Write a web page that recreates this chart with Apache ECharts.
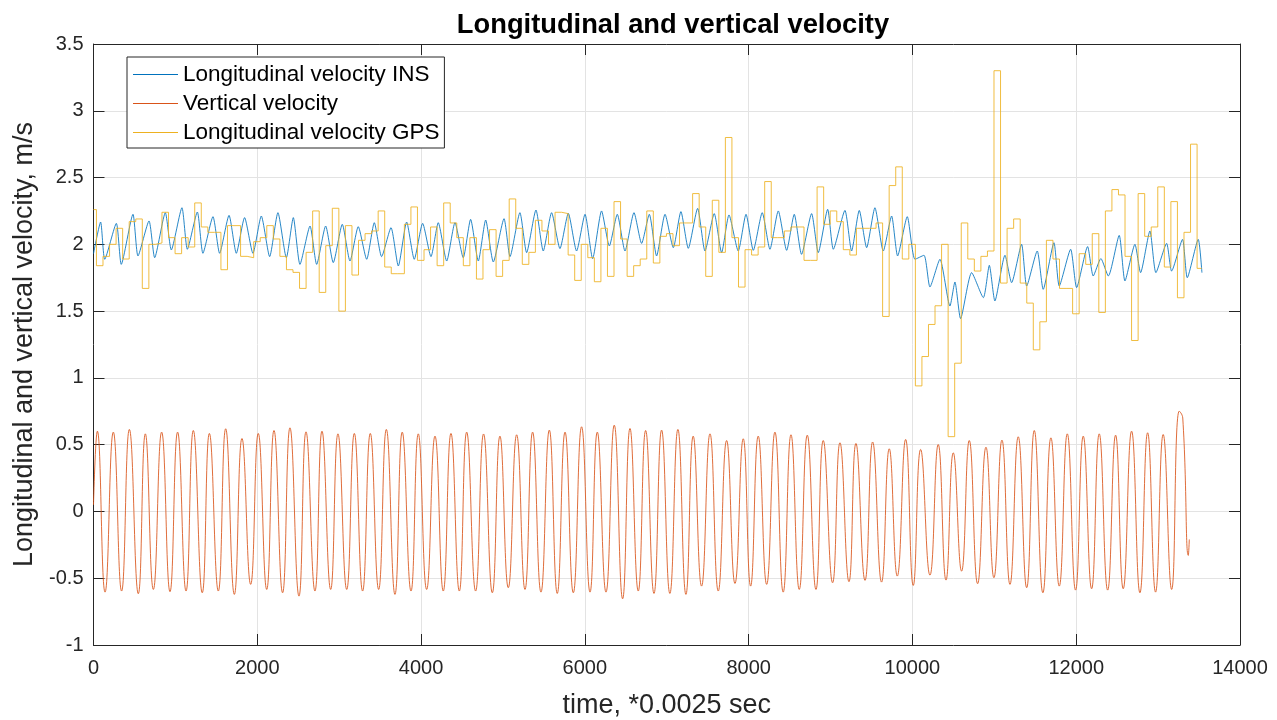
<!DOCTYPE html>
<html>
<head>
<meta charset="utf-8">
<script src="https://cdn.jsdelivr.net/npm/echarts/dist/echarts.min.js"></script>
<style>
html,body{margin:0;padding:0;background:#ffffff;}
#chart{width:1277px;height:720px;}
</style>
</head>
<body>
<div id="chart"></div>
<script>
// ---------------- DATA ----------------
const titleText = 'Longitudinal and vertical velocity';
const xAxisName = 'time, *0.0025 sec';
const yAxisName = 'Longitudinal and vertical velocity, m/s';
const seriesNames = ['Longitudinal velocity INS', 'Vertical velocity', 'Longitudinal velocity GPS'];

const xMin = 0, xMax = 14000, xStep = 2000;
const yMin = -1, yMax = 3.5, yStep = 0.5;

// Longitudinal velocity INS: key points (time in samples, velocity m/s)
const insTime = [0, 87, 137, 279, 339, 482, 543, 678, 747, 877, 950, 1080, 1146, 1268, 1336, 1459, 1540, 1655, 1744, 1845, 1947, 2049, 2151, 2252, 2355, 2440, 2521, 2644, 2725, 2835, 2928, 3038, 3132, 3233, 3336, 3429, 3518, 3633, 3722, 3824, 3917, 4019, 4121, 4210, 4313, 4414, 4515, 4605, 4699, 4789, 4882, 5013, 5086, 5207, 5289, 5403, 5492, 5594, 5696, 5798, 5899, 6002, 6095, 6204, 6299, 6396, 6490, 6600, 6693, 6787, 6876, 6979, 7080, 7173, 7263, 7377, 7467, 7580, 7670, 7760, 7873, 7968, 8057, 8166, 8260, 8362, 8464, 8557, 8646, 8769, 8850, 8965, 9034, 9176, 9257, 9351, 9441, 9542, 9644, 9746, 9819, 9937, 10031, 10141, 10214, 10336, 10458, 10519, 10588, 10723, 10866, 10939, 11007, 11130, 11211, 11333, 11395, 11524, 11597, 11728, 11793, 11932, 12005, 12139, 12208, 12301, 12392, 12525, 12595, 12717, 12786, 12900, 12973, 13104, 13165, 13298, 13356, 13490, 13535];
const insVel = [1.93,
  2.167, 1.888, 2.157, 1.85, 2.225, 1.913, 2.175, 1.9, 2.237, 1.958,
  2.274, 1.963, 2.242, 1.933, 2.207, 1.933, 2.217, 1.933, 2.2, 1.933,
  2.212, 1.908, 2.237, 1.9, 2.2, 1.85, 2.137, 1.85, 2.137, 1.863,
  2.15, 1.875, 2.132, 1.888, 2.162, 1.908, 2.125, 1.838, 2.167, 1.888,
  2.157, 1.908, 2.162, 1.875, 2.162, 1.9, 2.187, 1.875, 2.182, 1.868,
  2.192, 1.908, 2.237, 1.938, 2.257, 1.95, 2.237, 1.968, 2.232, 1.95,
  2.225, 1.893, 2.25, 1.988, 2.225, 1.95, 2.237, 2.007, 2.225, 1.913,
  2.225, 1.975, 2.245, 1.97, 2.269, 1.95, 2.23, 1.938, 2.22, 1.95,
  2.225, 1.955, 2.237, 1.963, 2.25, 1.955, 2.225, 1.925, 2.23, 1.938,
  2.262, 1.963, 2.254, 1.95, 2.254, 1.975, 2.274, 1.95, 2.212, 1.913,
  2.207,
  1.888, 1.918, 1.681, 1.888, 1.538, 1.718, 1.444, 1.788, 1.601, 1.843,
  1.576, 1.918, 1.713, 2.0, 1.688, 1.95, 1.663, 2.012, 1.688, 1.963,
  1.676, 1.983, 1.763, 1.893, 1.763, 2.067, 1.726, 2.0, 1.788, 2.1,
  1.788, 2.007, 1.8, 2.037, 1.75, 2.037, 1.788];

// Vertical velocity: peaks and troughs of each stride
const vertTime = [0, 47, 141, 242, 343, 438, 547, 633, 731, 832, 934, 1027, 1130, 1219, 1328, 1415, 1524, 1614, 1720, 1813, 1919, 2012, 2115, 2204, 2309, 2399, 2509, 2595, 2704, 2790, 2896, 2985, 3092, 3185, 3286, 3380, 3482, 3576, 3681, 3770, 3877, 3966, 4068, 4170, 4271, 4365, 4467, 4557, 4666, 4763, 4870, 4963, 5065, 5167, 5269, 5362, 5464, 5566, 5663, 5758, 5859, 5960, 6063, 6152, 6258, 6359, 6461, 6551, 6652, 6742, 6844, 6937, 7038, 7136, 7234, 7323, 7425, 7528, 7629, 7731, 7833, 7934, 8024, 8117, 8220, 8321, 8422, 8517, 8618, 8716, 8822, 8911, 9025, 9115, 9225, 9310, 9421, 9514, 9623, 9717, 9815, 9917, 10010, 10100, 10214, 10315, 10410, 10499, 10600, 10694, 10796, 10898, 10995, 11093, 11191, 11292, 11395, 11488, 11593, 11691, 11793, 11891, 11992, 12086, 12188, 12281, 12384, 12481, 12574, 12676, 12778, 12872, 12969, 13062, 13165, 13258, 13301, 13369, 13381];
const vertVel = [0.05,
  0.601, -0.604, 0.594, -0.596, 0.614, -0.616, 0.581, -0.584, 0.594, -0.601,
  0.594, -0.596, 0.606, -0.609, 0.584, -0.596, 0.619, -0.621, 0.546, -0.546,
  0.584, -0.584, 0.606, -0.609, 0.626, -0.634, 0.596, -0.596, 0.601, -0.584,
  0.581, -0.584, 0.584, -0.596, 0.584, -0.584, 0.614, -0.621, 0.594, -0.596,
  0.581, -0.584, 0.564, -0.596, 0.584, -0.596, 0.594, -0.596, 0.58, -0.609,
  0.564, -0.571, 0.574, -0.584, 0.594, -0.604, 0.609, -0.614, 0.594, -0.609,
  0.634, -0.604, 0.594, -0.604, 0.646, -0.654, 0.621, -0.596, 0.606, -0.614,
  0.609, -0.614, 0.614, -0.621, 0.564, -0.559, 0.581, -0.596, 0.531, -0.539,
  0.544, -0.559, 0.564, -0.546, 0.594, -0.604, 0.574, -0.584, 0.571, -0.584,
  0.531, -0.534, 0.514, -0.526, 0.509, -0.516, 0.52, -0.529, 0.469, -0.484,
  0.539, -0.554, 0.464, -0.477, 0.501, -0.514, 0.439, -0.447, 0.531, -0.541,
  0.481, -0.496, 0.534, -0.546, 0.559, -0.571, 0.606, -0.609, 0.551, -0.559,
  0.581, -0.589, 0.564, -0.579, 0.581, -0.589, 0.571, -0.579, 0.601, -0.609,
  0.589, -0.604, 0.576, -0.584,
  0.751, 0.70, -0.329, -0.21];

// Longitudinal velocity GPS: one value per GPS fix (5 Hz = every 80 samples)
const gpsFirstChange = 36;   // sample of first GPS update
const gpsPeriod = 80;        // samples between GPS updates
const gpsEnd = 13531;        // last sample
const gpsVel = [
  2.26, 1.84, 1.91, 2.0, 2.12, 1.89, 2.17, 2.19, 1.67, 2.0,
  2.01, 2.24, 2.05, 1.93, 2.05, 1.98, 2.31, 2.13, 2.09, 2.09,
  1.81, 2.14, 2.14, 1.91, 1.9, 2.02, 2.05, 2.14, 2.04, 1.91,
  1.81, 1.79, 1.67, 1.94, 2.25, 1.64, 1.99, 2.27, 1.5, 2.14,
  1.77, 2.03, 2.08, 2.1, 2.25, 1.83, 1.78, 1.78, 2.15, 2.28,
  1.88, 1.96, 2.13, 1.84, 2.31, 2.16, 2.05, 1.84, 2.05, 1.74,
  1.96, 2.11, 1.76, 1.88, 2.34, 2.12, 1.85, 1.94, 2.18, 2.1,
  2.0, 2.24, 2.23, 1.92, 1.73, 2.0, 1.9, 1.72, 2.12, 1.76,
  2.32, 2.04, 1.76, 1.84, 1.89, 2.25, 1.86, 2.06, 2.08, 1.99,
  2.16, 2.16, 2.38, 2.13, 1.76, 2.33, 1.94, 2.8, 2.05, 1.68,
  1.96, 1.92, 1.98, 2.47, 2.05, 2.05, 2.1, 2.13, 2.13, 1.88,
  1.88, 2.43, 2.15, 2.25, 2.17, 1.96, 1.92, 2.12, 2.12, 2.12,
  2.16, 1.46, 2.44, 2.58, 1.89, 2.0, 0.94, 1.16, 1.4, 1.54,
  2.0, 0.56, 1.11, 2.16, 1.89, 1.8, 1.91, 1.95, 3.3, 1.71,
  2.12, 2.19, 1.71, 1.56, 1.21, 1.42, 2.03, 1.89, 1.67, 1.67,
  1.48, 1.93, 1.85, 2.08, 1.49, 2.25, 2.41, 2.37, 1.91, 1.28,
  2.38, 2.06, 2.13, 2.43, 1.83, 2.32, 1.6, 2.09, 2.75, 1.82];

// ---------------- CHART ----------------
const FONT = '"Liberation Sans", Arial, Helvetica, sans-serif';
const TXT = '#262626';
const GRIDC = '#e3e3e3';
const COLORS = ['#0072BD', '#D95319', '#EDB120'];

const zip = (t, v) => t.map((x, i) => [x, v[i]]);
const insData = zip(insTime, insVel);
const vertData = zip(vertTime, vertVel);
const gpsData = gpsVel.map((v, i) => [i === 0 ? 0 : gpsFirstChange + gpsPeriod * (i - 1), v]);
gpsData.push([gpsEnd, gpsVel[gpsVel.length - 1]]);

const chart = echarts.init(document.getElementById('chart'), null, {renderer: 'canvas'});

function baseX(pos, main) {
  return {
    type: 'value', position: pos, min: xMin, max: xMax, interval: xStep,
    axisLine: {show: true, onZero: false, lineStyle: {color: TXT, width: 1}},
    axisTick: {show: true, inside: true, length: 11, lineStyle: {color: TXT, width: 1}},
    axisLabel: {show: main, color: TXT, fontSize: 20, fontFamily: FONT, margin: 13,
                formatter: v => String(v)},
    splitLine: {show: main, lineStyle: {color: GRIDC, width: 1}},
    name: main ? xAxisName : '', nameLocation: 'middle', nameGap: 47,
    nameTextStyle: {color: TXT, fontSize: 27, fontFamily: FONT}
  };
}
function baseY(pos, main) {
  return {
    type: 'value', position: pos, min: yMin, max: yMax, interval: yStep,
    axisLine: {show: true, onZero: false, lineStyle: {color: TXT, width: 1}},
    axisTick: {show: true, inside: true, length: 11, lineStyle: {color: TXT, width: 1}},
    axisLabel: {show: main, color: TXT, fontSize: 20, fontFamily: FONT, margin: 10,
                formatter: v => String(v)},
    splitLine: {show: main, lineStyle: {color: GRIDC, width: 1}},
    name: main ? yAxisName : '', nameLocation: 'middle', nameGap: 48, nameRotate: 90,
    nameTextStyle: {color: TXT, fontSize: 27, fontFamily: FONT}
  };
}

const option = {
  animation: false,
  backgroundColor: '#ffffff',
  title: {
    text: titleText, left: 668, top: 7, textAlign: 'center',
    textStyle: {fontFamily: FONT, fontSize: 27.3, fontWeight: 'bold', color: '#000'}
  },
  grid: {left: 93.5, right: 37, top: 44, bottom: 75, containLabel: false, outerBoundsMode: 'none'},
  legend: {
    orient: 'vertical', left: 127, top: 57,
    data: seriesNames.map(n => ({name: n, icon: 'rect'})),
    itemWidth: 45, itemHeight: 1.2, itemGap: 6,
    padding: [6, 5, 4, 6],
    borderColor: TXT, borderWidth: 1, backgroundColor: '#ffffff',
    textStyle: {fontFamily: FONT, fontSize: 22.5, color: '#000', lineHeight: 23}
  },
  xAxis: [baseX('bottom', true), baseX('top', false)],
  yAxis: [baseY('left', true), baseY('right', false)],
  series: [
    {name: seriesNames[0], type: 'line', data: insData, symbol: 'none', showSymbol: false, smooth: 0.2,
     lineStyle: {color: COLORS[0], width: 1, opacity: 0.85}, itemStyle: {color: COLORS[0]}, z: 2},
    {name: seriesNames[1], type: 'line', data: vertData, symbol: 'none', showSymbol: false, smooth: 0.5,
     lineStyle: {color: COLORS[1], width: 1, opacity: 0.85}, itemStyle: {color: COLORS[1]}, z: 2},
    {name: seriesNames[2], type: 'line', data: gpsData, symbol: 'none', showSymbol: false, step: 'end',
     lineStyle: {color: COLORS[2], width: 1, opacity: 0.85}, itemStyle: {color: COLORS[2]}, z: 2}
  ]
};
chart.setOption(option);
</script>
</body>
</html>
